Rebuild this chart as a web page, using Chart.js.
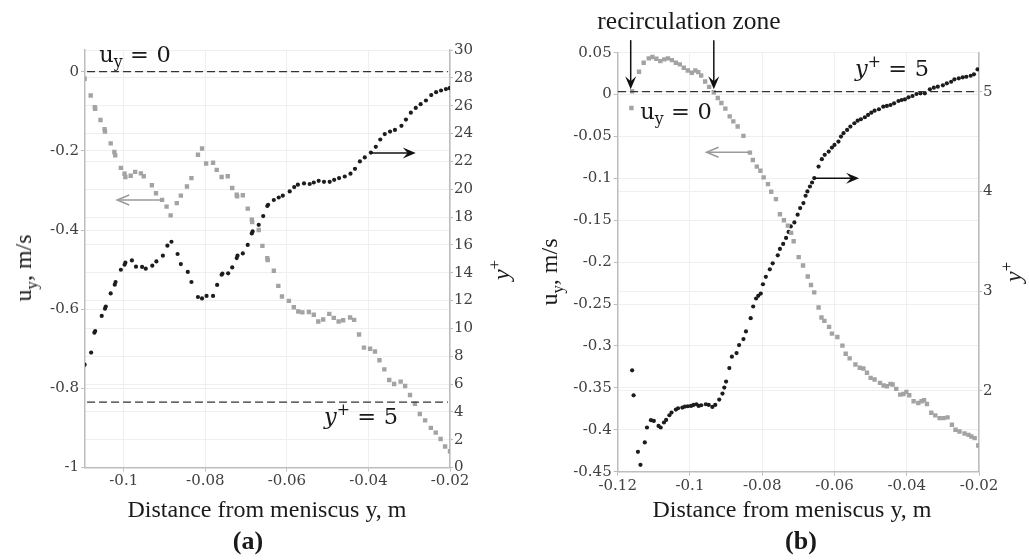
<!DOCTYPE html>
<html>
<head>
<meta charset="utf-8">
<script src="https://cdn.jsdelivr.net/npm/chart.js@4.4.1/dist/chart.umd.min.js"></script>
<style>
  html, body { margin: 0; background: #fff; }
  #wrap { position: relative; width: 1029px; height: 560px; overflow: hidden; font-family: "Liberation Serif", serif; color: #1a1a1a; }
  canvas { position: absolute; top: 0; }
  .t { position: absolute; white-space: nowrap; line-height: 1; transform: translate(-50%, -50%); }
  .rot { transform: translate(-50%, -50%) rotate(-90deg); }
  .title { font-size: 24px; }
  .tag { font-size: 26px; font-weight: bold; }
  .math { font-family: "DejaVu Serif", serif; font-size: 22.5px; }
  .eq { margin: 0 0.33em; }
  sub, sup { font-size: 0.7em; line-height: 0; }
</style>
</head>
<body>
<div id="wrap">
  <canvas id="chartA" width="515" height="560" style="left:0"></canvas>
  <canvas id="chartB" width="514" height="560" style="left:515px"></canvas>

  <div class="t title" style="left:267px;top:509px">Distance from meniscus y, m</div>
  <div class="t title" style="left:792px;top:509px">Distance from meniscus y, m</div>
  <div class="t tag" style="left:248px;top:541px">(a)</div>
  <div class="t tag" style="left:801px;top:541px">(b)</div>
  <div class="t title rot" style="left:23px;top:268px">u<sub>y</sub>, m/s</div>
  <div class="t title rot" style="left:501px;top:270px"><i>y</i><sup>+</sup></div>
  <div class="t title rot" style="left:549px;top:272px">u<sub>y</sub>, m/s</div>
  <div class="t title rot" style="left:1013px;top:272px"><i>y</i><sup>+</sup></div>
  <div class="t title" style="left:689px;top:21px;font-size:25.5px">recirculation zone</div>

  <div class="t math" style="left:135px;top:54px">u<sub>y</sub><span class="eq">=</span>0</div>
  <div class="t math" style="left:676px;top:111px">u<sub>y</sub><span class="eq">=</span>0</div>
  <div class="t math" style="left:361px;top:416px"><i>y</i><sup>+</sup><span class="eq">=</span>5</div>
  <div class="t math" style="left:892px;top:68px"><i>y</i><sup>+</sup><span class="eq">=</span>5</div>
</div>
<script>
// ---- panel (a) ----
const aXTicks = [-0.1, -0.08, -0.06, -0.04, -0.02];
const aUTicks = [0, -0.2, -0.4, -0.6, -0.8, -1];
const aYpTicks = [0, 2, 4, 6, 8, 10, 12, 14, 16, 18, 20, 22, 24, 26, 28, 30];

const aGrayX = [-0.1096, -0.1081, -0.1071, -0.1070, -0.1057, -0.1047, -0.1046, -0.1032, -0.1023, -0.1021,
  -0.1007, -0.0998, -0.0996, -0.0983, -0.0972, -0.0958, -0.0951, -0.0931, -0.0921, -0.0906,
  -0.0895, -0.0885, -0.0870, -0.0860, -0.0845, -0.0834, -0.0818, -0.0808, -0.0798, -0.0781,
  -0.0772, -0.0760, -0.0745, -0.0734, -0.0723, -0.0722, -0.0708, -0.0696, -0.0686, -0.0685,
  -0.0669, -0.0660, -0.0648, -0.0647, -0.0632, -0.0621, -0.0612, -0.0595, -0.0583, -0.0572,
  -0.0562, -0.0546, -0.0534, -0.0523, -0.0511, -0.0496, -0.0485, -0.0473, -0.0462, -0.0445,
  -0.0435, -0.0423, -0.0411, -0.0396, -0.0384, -0.0373, -0.0361, -0.0349, -0.0337, -0.0321,
  -0.0310, -0.0298, -0.0286, -0.0274, -0.0261, -0.0247, -0.0235, -0.0223, -0.0212, -0.0200];
const aGrayU = [-0.018, -0.060, -0.090, -0.094, -0.122, -0.145, -0.151, -0.181, -0.203, -0.211,
  -0.243, -0.258, -0.266, -0.263, -0.253, -0.257, -0.264, -0.287, -0.307, -0.324,
  -0.341, -0.363, -0.332, -0.313, -0.290, -0.269, -0.210, -0.194, -0.232, -0.230,
  -0.248, -0.266, -0.264, -0.294, -0.311, -0.315, -0.312, -0.346, -0.374, -0.380,
  -0.400, -0.440, -0.471, -0.476, -0.503, -0.541, -0.568, -0.579, -0.595, -0.606,
  -0.608, -0.607, -0.614, -0.631, -0.626, -0.612, -0.622, -0.631, -0.628, -0.621,
  -0.627, -0.664, -0.697, -0.700, -0.707, -0.729, -0.752, -0.779, -0.789, -0.783,
  -0.794, -0.817, -0.839, -0.865, -0.881, -0.900, -0.912, -0.928, -0.947, -0.959];

const aBlackX = [-0.1096, -0.1080, -0.1072, -0.1070, -0.1054, -0.1046, -0.1044, -0.1032, -0.1022, -0.1020,
  -0.1007, -0.0998, -0.0996, -0.0980, -0.0970, -0.0955, -0.0946, -0.0930, -0.0920, -0.0904,
  -0.0893, -0.0883, -0.0868, -0.0860, -0.0843, -0.0834, -0.0818, -0.0808, -0.0797, -0.0781,
  -0.0771, -0.0760, -0.0758, -0.0744, -0.0734, -0.0723, -0.0721, -0.0708, -0.0696, -0.0686,
  -0.0684, -0.0669, -0.0658, -0.0648, -0.0646, -0.0632, -0.0620, -0.0610, -0.0593, -0.0582,
  -0.0573, -0.0558, -0.0544, -0.0534, -0.0522, -0.0509, -0.0495, -0.0484, -0.0472, -0.0458,
  -0.0444, -0.0433, -0.0421, -0.0409, -0.0394, -0.0382, -0.0371, -0.0360, -0.0347, -0.0335,
  -0.0319, -0.0308, -0.0296, -0.0284, -0.0272, -0.0259, -0.0246, -0.0234, -0.0222, -0.0210, -0.0201];
const aBlackYp = [7.39, 8.26, 9.69, 9.81, 10.89, 11.41, 11.56, 12.51, 13.14, 13.33,
  14.21, 14.57, 14.72, 14.88, 14.43, 14.41, 14.29, 14.50, 14.81, 15.22,
  15.94, 16.22, 15.34, 14.62, 14.05, 13.33, 12.25, 12.15, 12.33, 12.33,
  13.12, 13.85, 13.93, 13.95, 14.38, 15.05, 15.22, 15.38, 15.99, 16.82,
  16.96, 17.44, 18.07, 18.79, 18.88, 19.22, 19.40, 19.53, 19.84, 20.15,
  20.32, 20.41, 20.37, 20.48, 20.60, 20.53, 20.53, 20.67, 20.80, 20.91,
  21.11, 21.46, 21.99, 22.28, 22.63, 23.04, 23.57, 23.96, 24.14, 24.26,
  24.55, 25.00, 25.50, 25.84, 26.11, 26.37, 26.76, 26.97, 27.09, 27.19, 27.26];

const aZeroU = 0;      // u_y = 0 line
const aWallYp = 4.7;   // y+ = 5 line, as drawn

// ---- panel (b) ----
const bXTicks = [-0.12, -0.1, -0.08, -0.06, -0.04, -0.02];
const bUTicks = [0.05, 0, -0.05, -0.1, -0.15, -0.2, -0.25, -0.3, -0.35, -0.4, -0.45];
const bYpTicks = [2, 3, 4, 5];

const bGrayX = [-0.1162, -0.1160, -0.1141, -0.1128, -0.1114, -0.1104, -0.1093, -0.1082, -0.1071, -0.1061,
  -0.1050, -0.1039, -0.1028, -0.1017, -0.1006, -0.0995, -0.0985, -0.0977, -0.0969, -0.0958,
  -0.0947, -0.0934, -0.0923, -0.0913, -0.0902, -0.0890, -0.0880, -0.0868, -0.0852, -0.0834,
  -0.0826, -0.0815, -0.0805, -0.0796, -0.0784, -0.0775, -0.0762, -0.0751, -0.0740, -0.0729,
  -0.0720, -0.0713, -0.0699, -0.0687, -0.0674, -0.0665, -0.0656, -0.0644, -0.0636, -0.0628,
  -0.0615, -0.0607, -0.0592, -0.0578, -0.0569, -0.0558, -0.0542, -0.0530, -0.0520, -0.0510,
  -0.0500, -0.0489, -0.0474, -0.0464, -0.0455, -0.0445, -0.0439, -0.0429, -0.0418, -0.0409,
  -0.0401, -0.0393, -0.0381, -0.0368, -0.0359, -0.0352, -0.0344, -0.0332, -0.0321, -0.0309,
  -0.0298, -0.0287, -0.0275, -0.0265, -0.0254, -0.0240, -0.0229, -0.0221, -0.0212, -0.0202];
const bGrayU = [-0.016, 0.004, 0.0272, 0.038, 0.0432, 0.0448, 0.0428, 0.040, 0.042, 0.0432,
  0.0412, 0.038, 0.036, 0.032, 0.0288, 0.026, 0.0288, 0.0268, 0.0228, 0.0156,
  0.0092, 0.0028, -0.004, -0.010, -0.0168, -0.026, -0.032, -0.038, -0.0492, -0.0692,
  -0.078, -0.086, -0.0908, -0.0988, -0.1068, -0.116, -0.1248, -0.1428, -0.150, -0.1564,
  -0.165, -0.175, -0.194, -0.204, -0.217, -0.2272, -0.236, -0.254, -0.266, -0.270,
  -0.2772, -0.2852, -0.2892, -0.2996, -0.3092, -0.3148, -0.322, -0.326, -0.3268, -0.332,
  -0.338, -0.340, -0.344, -0.3472, -0.348, -0.3452, -0.346, -0.3512, -0.358, -0.3572,
  -0.3548, -0.3588, -0.366, -0.368, -0.366, -0.3648, -0.3692, -0.3796, -0.3828, -0.386,
  -0.386, -0.3852, -0.394, -0.400, -0.402, -0.4044, -0.406, -0.408, -0.410, -0.4188];

const bBlackX = [-0.1160, -0.1156, -0.1144, -0.1137, -0.1125, -0.1119, -0.1108, -0.1100, -0.1087, -0.1081,
  -0.1072, -0.1066, -0.1057, -0.1051, -0.1039, -0.1033, -0.1021, -0.1014, -0.1006, -0.0997,
  -0.0990, -0.0982, -0.0976, -0.0969, -0.0956, -0.0948, -0.0938, -0.0930, -0.0919, -0.0910,
  -0.0905, -0.0900, -0.0891, -0.0884, -0.0871, -0.0864, -0.0852, -0.0845, -0.0832, -0.0825,
  -0.0817, -0.0811, -0.0804, -0.0798, -0.0790, -0.0779, -0.0771, -0.0757, -0.0751, -0.0742,
  -0.0734, -0.0727, -0.0721, -0.0711, -0.0702, -0.0695, -0.0686, -0.0680, -0.0675, -0.0668,
  -0.0662, -0.0656, -0.0644, -0.0635, -0.0627, -0.0616, -0.0607, -0.0600, -0.0589, -0.0582,
  -0.0575, -0.0565, -0.0556, -0.0545, -0.0536, -0.0527, -0.0516, -0.0507, -0.0498, -0.0489,
  -0.0477, -0.0465, -0.0455, -0.0445, -0.0435, -0.0423, -0.0414, -0.0405, -0.0395, -0.0384,
  -0.0373, -0.0362, -0.0350, -0.0336, -0.0325, -0.0314, -0.0300, -0.0289, -0.0277, -0.0268,
  -0.0256, -0.0245, -0.0235, -0.0223, -0.0214, -0.0204];
const bBlackYp = [2.207, 1.957, 1.39, 1.26, 1.484, 1.634, 1.707, 1.70, 1.65, 1.634,
  1.684, 1.71, 1.757, 1.784, 1.814, 1.827, 1.834, 1.844, 1.847, 1.85,
  1.86, 1.867, 1.85, 1.857, 1.867, 1.86, 1.84, 1.86, 1.914, 1.974,
  2.034, 2.094, 2.23, 2.344, 2.38, 2.46, 2.52, 2.597, 2.73, 2.847,
  2.927, 2.954, 2.977, 3.07, 3.144, 3.22, 3.28, 3.36, 3.424, 3.474,
  3.534, 3.594, 3.65, 3.69, 3.767, 3.834, 3.884, 3.957, 4.0, 4.05,
  4.09, 4.134, 4.25, 4.324, 4.367, 4.40, 4.44, 4.467, 4.50, 4.55,
  4.584, 4.617, 4.65, 4.684, 4.71, 4.724, 4.744, 4.767, 4.79, 4.81,
  4.824, 4.85, 4.857, 4.867, 4.884, 4.907, 4.917, 4.924, 4.944, 4.957,
  4.977, 4.984, 4.984, 5.024, 5.04, 5.05, 5.064, 5.084, 5.10, 5.124,
  5.134, 5.144, 5.15, 5.16, 5.174, 5.224];

const bWallYp = 5;     // y+ = 5 line (coincides with u_y = 0)

// ---- styling ----
const GRAY = '#a3a3a3';
const BLACK = '#1c1c1c';
const AXIS = '#bdbdbd';
const GRID = '#efefef';
const TICK_FONT = { family: '"DejaVu Serif", serif', size: 15 };
const TICK_COLOR = '#404040';

const pts = (xs, ys) => xs.map((x, i) => ({ x, y: ys[i] }));
const fmt = v => String(+v.toFixed(3));
const fixedTicks = vals => s => { s.ticks = vals.map(v => ({ value: v })); };

function refLine(x0, x1, v, axis) {
  return {
    data: [{ x: x0, y: v }, { x: x1, y: v }], yAxisID: axis, showLine: true,
    borderColor: '#333', borderWidth: 1.3, borderDash: [8, 4], pointRadius: 0, fill: false
  };
}

function drawArrow(ctx, x1, y1, x2, y2, color, head) {
  const ang = Math.atan2(y2 - y1, x2 - x1);
  const L = head === 'solid' ? 13 : 12, W = head === 'solid' ? 5.5 : 5;
  ctx.save();
  ctx.strokeStyle = color; ctx.fillStyle = color; ctx.lineWidth = 1.5;
  ctx.beginPath();
  ctx.moveTo(x1, y1);
  ctx.lineTo(x2 - Math.cos(ang) * (head === 'solid' ? 6 : 1), y2 - Math.sin(ang) * (head === 'solid' ? 6 : 1));
  ctx.stroke();
  ctx.translate(x2, y2);
  ctx.rotate(ang);
  ctx.beginPath();
  if (head === 'solid') {
    ctx.moveTo(0, 0); ctx.lineTo(-L, -W); ctx.lineTo(-L * 0.62, 0); ctx.lineTo(-L, W); ctx.closePath(); ctx.fill();
  } else {
    ctx.moveTo(-L, -W); ctx.lineTo(0, 0); ctx.lineTo(-L, W); ctx.stroke();
  }
  ctx.restore();
}

const arrowPlugin = {
  id: 'arrows',
  afterDraw(chart, args, opts) {
    const sx = chart.scales.x;
    (opts.list || []).forEach(a => {
      const sy = chart.scales[a.axis];
      drawArrow(chart.ctx, sx.getPixelForValue(a.x1), sy.getPixelForValue(a.y1),
        sx.getPixelForValue(a.x2), sy.getPixelForValue(a.y2), a.color, a.head);
    });
  }
};

function panel(id, o) {
  const W = document.getElementById(id).width, H = 560;
  const tickOpts = { font: TICK_FONT, color: TICK_COLOR, callback: fmt, autoSkip: false, maxRotation: 0 };
  return new Chart(document.getElementById(id), {
    type: 'scatter',
    data: {
      datasets: [
        ...o.lines,
        { data: pts(o.grayX, o.grayU), yAxisID: 'y', pointStyle: 'rect', pointRadius: 3.1, pointBackgroundColor: GRAY, pointBorderWidth: 0 },
        { data: pts(o.blackX, o.blackYp), yAxisID: 'y2', pointStyle: 'circle', pointRadius: 2.1, pointBackgroundColor: BLACK, pointBorderWidth: 0 }
      ]
    },
    options: {
      responsive: false, animation: false, events: [],
      layout: { padding: { top: o.area.top, left: 0, right: 0, bottom: 0 } },
      plugins: { legend: { display: false }, tooltip: { enabled: false }, arrows: { list: o.arrows } },
      scales: {
        x: {
          type: 'linear', position: 'bottom', min: o.xRange[0], max: o.xRange[1],
          afterBuildTicks: fixedTicks(o.xTicks), afterFit: s => { s.height = H - o.area.bottom; },
          grid: { color: GRID, tickColor: AXIS, tickLength: 4 },
          border: { color: AXIS, width: 1.5 },
          ticks: { ...tickOpts, padding: 1 }
        },
        y: {
          type: 'linear', position: 'left', min: o.uRange[0], max: o.uRange[1],
          afterBuildTicks: fixedTicks(o.uTicks), afterFit: s => { s.width = o.area.left; },
          grid: { color: GRID, tickColor: AXIS, tickLength: 4 },
          border: { color: AXIS, width: 1.5 },
          ticks: { ...tickOpts, padding: 2 }
        },
        y2: {
          type: 'linear', position: 'right', min: o.ypRange[0], max: o.ypRange[1],
          afterBuildTicks: fixedTicks(o.ypTicks), afterFit: s => { s.width = W - o.area.right; },
          grid: { color: GRID, tickColor: AXIS, tickLength: 3 },
          border: { color: AXIS, width: 1.5 },
          ticks: { ...tickOpts, padding: 1 }
        }
      }
    },
    plugins: [arrowPlugin]
  });
}

panel('chartA', {
  area: { left: 85, right: 450, top: 50, bottom: 467.5 },
  xRange: [-0.1095, -0.02], uRange: [-1, 0.0548], ypRange: [0, 30],
  xTicks: aXTicks, uTicks: aUTicks, ypTicks: aYpTicks,
  grayX: aGrayX, grayU: aGrayU, blackX: aBlackX, blackYp: aBlackYp,
  lines: [refLine(-0.109, -0.0205, aZeroU, 'y'), refLine(-0.109, -0.0205, aWallYp, 'y2')],
  arrows: [
    { axis: 'y', x1: -0.0906, y1: -0.324, x2: -0.1016, y2: -0.324, color: '#9a9a9a', head: 'open' },
    { axis: 'y2', x1: -0.0394, y1: 22.6, x2: -0.0284, y2: 22.6, color: '#111', head: 'solid' }
  ]
});

panel('chartB', {
  area: { left: 102.7, right: 464, top: 52.7, bottom: 471.7 },
  xRange: [-0.12, -0.02], uRange: [-0.45, 0.05], ypRange: [1.191, 5.391],
  xTicks: bXTicks, uTicks: bUTicks, ypTicks: bYpTicks,
  grayX: bGrayX, grayU: bGrayU, blackX: bBlackX, blackYp: bBlackYp,
  lines: [refLine(-0.1199, -0.0205, bWallYp, 'y2')],
  arrows: [
    { axis: 'y', x1: -0.0835, y1: -0.0688, x2: -0.0954, y2: -0.0688, color: '#9a9a9a', head: 'open' },
    { axis: 'y2', x1: -0.0656, y1: 4.132, x2: -0.0532, y2: 4.132, color: '#111', head: 'solid' },
    { axis: 'y', x1: -0.1164, y1: 0.065, x2: -0.1164, y2: 0.0063, color: '#111', head: 'solid' },
    { axis: 'y', x1: -0.0934, y1: 0.065, x2: -0.0934, y2: 0.0063, color: '#111', head: 'solid' }
  ]
});
</script>
</body>
</html>
